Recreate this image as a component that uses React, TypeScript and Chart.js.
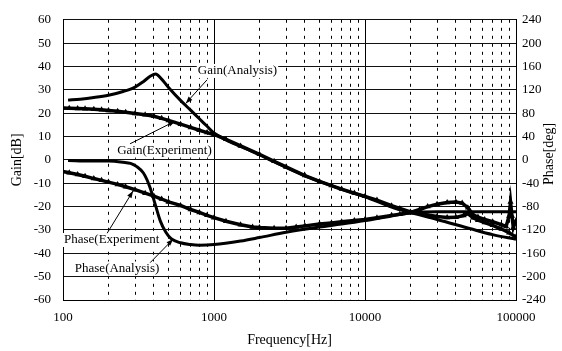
import React, { useEffect, useRef } from 'react';
import { Chart, registerables } from 'chart.js';

Chart.register(...registerables);

const SERIF = '"Liberation Serif", "Times New Roman", serif';

// ---- Data (frequency in Hz, gain in dB, phase in degrees) ----
const GA_FREQ = [108, 130, 160, 200, 250, 300, 340, 380, 410, 450, 500, 600, 700, 800, 900, 1000, 1200, 1500, 2000, 2500, 3000, 4000, 5000, 7000, 10000, 15000, 20000, 30000, 50000, 70000, 100000];
const GAIN_ANALYSIS = [25.6, 26.0, 26.7, 27.7, 29.3, 31.2, 33.5, 35.9, 36.8, 34.6, 31.0, 25.5, 21.3, 17.6, 14.4, 11.5, 8.6, 5.8, 2.2, -0.8, -3.2, -6.8, -9.2, -12.6, -15.8, -20.2, -22.6, -25.5, -29.5, -32.0, -34.0];

const GE_FREQ = [100, 110, 125, 140, 160, 180, 200, 230, 260, 300, 350, 400, 450, 500, 600, 700, 800, 900, 1000, 1200, 1500, 2000, 2500, 3000, 4000, 5000, 6000, 7000, 8500, 10000, 12000, 15000, 17000, 20000, 25000, 30000, 35000, 40000, 45000, 48000, 52000, 56000, 62000, 70000, 80000, 90000, 100000];
const GAIN_EXPERIMENT = [22.2, 22.1, 22.0, 21.9, 21.7, 21.5, 21.2, 20.8, 20.4, 19.9, 19.3, 18.7, 17.8, 16.9, 15.3, 13.9, 12.7, 11.7, 10.9, 8.8, 6.0, 2.4, -0.6, -3.0, -6.7, -9.2, -11.0, -12.5, -14.2, -15.6, -17.2, -19.6, -20.8, -22.3, -23.4, -24.2, -24.7, -24.6, -23.8, -23.0, -24.8, -25.8, -26.8, -28.0, -29.6, -31.2, -33.0];

const PA_FREQ = [108, 150, 200, 250, 280, 310, 340, 360, 380, 410, 440, 480, 520, 600, 700, 800, 1000, 1500, 2000, 3000, 5000, 7000, 10000, 15000, 20000, 30000, 50000, 100000];
const PHASE_ANALYSIS = [-1, -2, -2, -4, -6, -12, -22, -34, -50, -78, -104, -124, -135, -142, -145, -146, -145, -139, -133, -124, -115, -110, -104, -96, -91, -89, -89, -89];

const PE_FREQ = [100, 110, 125, 140, 160, 180, 200, 230, 260, 300, 350, 400, 450, 500, 600, 700, 800, 900, 1000, 1200, 1500, 1800, 2000, 2500, 3000, 3500, 4000, 5000, 6000, 7000, 8500, 10000, 12000, 15000, 17000, 20000, 23000, 26000, 30000, 35000, 40000, 44000, 48000, 52000, 56000, 62000, 70000, 80000, 86000, 90000, 92000, 94000, 96000, 100000];
const PHASE_EXPERIMENT = [-20, -22, -25, -28, -32, -35, -38, -42, -46, -51, -57, -62, -67, -72, -78, -85, -90, -95, -99, -105, -111, -115, -116, -117, -117, -115, -113, -110, -108, -106, -104, -102, -99, -95, -93, -90, -85, -80, -76, -73, -72, -74, -82, -94, -98, -102, -106, -111, -114, -96, -72, -96, -116, -104];

const DECADES = [100, 1000, 10000, 100000];
const GAIN_MIN = -60, GAIN_MAX = 60, GAIN_STEP = 10;
const PHASE_MIN = -240, PHASE_MAX = 240, PHASE_STEP = 40;

// Annotation text and arrows, in data coordinates [Hz, dB]
const ANNOTATIONS = [
  { text: 'Gain(Analysis)', at: [1430, 38.1], tail: [900, 34.3], head: [650, 24.2] },
  { text: 'Gain(Experiment)', at: [470, 4.0], tail: [278, 6.9], head: [553, 16.6] },
  { text: 'Phase(Experiment', at: [210, -34.3], tail: [196, -31.4], head: [291, -13.3] },
  { text: 'Phase(Analysis)', at: [228, -46.5], tail: [378, -44.0], head: [537, -33.9] },
];

const toPoints = (xs: number[], ys: number[]) => xs.map((x, i) => ({ x, y: ys[i] }));
const isDecade = (v: number) => Math.abs(Math.log10(v) - Math.round(Math.log10(v))) < 1e-9;

const annotationPlugin = {
  id: 'bodeAnnotations',
  afterDatasetsDraw(chart: any) {
    const { ctx } = chart;
    const xs = chart.scales.x;
    const ys = chart.scales.y;
    const y2 = chart.scales.y2;
    ctx.save();
    ctx.font = `13px ${SERIF}`;
    ctx.textAlign = 'center';
    ctx.textBaseline = 'middle';
    ANNOTATIONS.forEach((a) => {
      const tx = xs.getPixelForValue(a.at[0]);
      const ty = ys.getPixelForValue(a.at[1]);
      const w = ctx.measureText(a.text).width;
      ctx.fillStyle = '#fff';
      ctx.fillRect(tx - w / 2 - 1, ty - 7, w + 2, 14);
      ctx.fillStyle = '#000';
      ctx.fillText(a.text, tx, ty);
      const ax = xs.getPixelForValue(a.tail[0]);
      const ay = ys.getPixelForValue(a.tail[1]);
      const hx = xs.getPixelForValue(a.head[0]);
      const hy = ys.getPixelForValue(a.head[1]);
      ctx.strokeStyle = '#000';
      ctx.lineWidth = 1;
      ctx.beginPath();
      ctx.moveTo(ax, ay);
      ctx.lineTo(hx, hy);
      ctx.stroke();
      const ang = Math.atan2(hy - ay, hx - ax);
      const L = 7, W = 2.5;
      ctx.beginPath();
      ctx.moveTo(hx, hy);
      ctx.lineTo(hx - L * Math.cos(ang) + W * Math.sin(ang), hy - L * Math.sin(ang) - W * Math.cos(ang));
      ctx.lineTo(hx - L * Math.cos(ang) - W * Math.sin(ang), hy - L * Math.sin(ang) + W * Math.cos(ang));
      ctx.closePath();
      ctx.fill();
    });
    // right axis title, reading bottom-to-top
    ctx.translate(y2.right - 13, (chart.chartArea.top + chart.chartArea.bottom) / 2 - 6);
    ctx.rotate(-Math.PI / 2);
    ctx.font = `14px ${SERIF}`;
    ctx.fillStyle = '#000';
    ctx.fillText('Phase[deg]', 0, 0);
    ctx.restore();
  },
};

export default function App() {
  const canvasRef = useRef<HTMLCanvasElement | null>(null);

  useEffect(() => {
    if (!canvasRef.current) return;
    const tickFont = { family: SERIF, size: 13 };
    const expStyle = {
      borderColor: '#000',
      borderWidth: 3.5,
      pointStyle: 'triangle',
      pointRadius: 3.5,
      pointBackgroundColor: '#000',
      pointBorderColor: '#000',
      pointBorderWidth: 0,
      tension: 0,
    };
    const anaStyle = {
      borderColor: '#000',
      borderWidth: 3,
      pointRadius: 0,
      tension: 0.4,
      cubicInterpolationMode: 'monotone',
    };
    const chart = new Chart(canvasRef.current, {
      type: 'line',
      data: {
        datasets: [
          { label: 'Gain(Analysis)', data: toPoints(GA_FREQ, GAIN_ANALYSIS), yAxisID: 'y', ...anaStyle },
          { label: 'Phase(Analysis)', data: toPoints(PA_FREQ, PHASE_ANALYSIS), yAxisID: 'y2', ...anaStyle },
          { label: 'Gain(Experiment)', data: toPoints(GE_FREQ, GAIN_EXPERIMENT), yAxisID: 'y', ...expStyle },
          { label: 'Phase(Experiment)', data: toPoints(PE_FREQ, PHASE_EXPERIMENT), yAxisID: 'y2', ...expStyle },
        ],
      },
      options: {
        responsive: false,
        animation: false,
        layout: { padding: { top: 15, left: 0, right: 0, bottom: 0 } },
        plugins: {
          legend: { display: false },
          tooltip: { enabled: false },
        },
        scales: {
          x: {
            type: 'logarithmic',
            position: 'bottom',
            min: DECADES[0],
            max: DECADES[DECADES.length - 1],
            afterBuildTicks: (scale: any) => {
              const ticks: any[] = [];
              for (let d = 0; d < DECADES.length; d++) {
                ticks.push({ value: DECADES[d] });
                if (d < DECADES.length - 1) {
                  for (let m = 2; m <= 9; m++) ticks.push({ value: DECADES[d] * m });
                }
              }
              scale.ticks = ticks;
            },
            afterFit: (scale: any) => { scale.height = 51; },
            grid: { color: '#000', lineWidth: 1, drawTicks: false },
            border: {
              display: true,
              color: '#000',
              width: 1,
              dash: (ctx: any) => (ctx.tick && !isDecade(ctx.tick.value) ? [3, 5] : []),
            },
            ticks: {
              autoSkip: false,
              maxRotation: 0,
              padding: 10,
              color: '#000',
              font: tickFont,
              callback: (v: any) => (DECADES.includes(Number(v)) ? String(v) : ''),
            },
            title: {
              display: true,
              text: 'Frequency[Hz]',
              color: '#000',
              font: { family: SERIF, size: 14 },
              padding: { top: 0, bottom: 2 },
            },
          },
          y: {
            position: 'left',
            min: GAIN_MIN,
            max: GAIN_MAX,
            afterFit: (scale: any) => { scale.width = 63; },
            grid: { color: '#111', lineWidth: 1, drawTicks: false },
            border: { display: true, color: '#000', width: 1 },
            ticks: { stepSize: GAIN_STEP, padding: 12, color: '#000', font: tickFont },
            title: {
              display: true,
              text: 'Gain[dB]',
              color: '#000',
              font: { family: SERIF, size: 14 },
              padding: { top: 9, bottom: 0 },
            },
          },
          y2: {
            position: 'right',
            min: PHASE_MIN,
            max: PHASE_MAX,
            afterFit: (scale: any) => { scale.width = 46; },
            grid: { display: false, drawTicks: false },
            border: { display: true, color: '#000', width: 1 },
            ticks: { stepSize: PHASE_STEP, padding: 6, color: '#000', font: tickFont },
          },
        },
      },
      plugins: [annotationPlugin],
    } as any);
    return () => chart.destroy();
  }, []);

  return (
    <div style={{ position: 'fixed', left: 0, top: 0, width: 562, height: 351, background: '#fff' }}>
      <canvas ref={canvasRef} width={562} height={351} />
    </div>
  );
}
